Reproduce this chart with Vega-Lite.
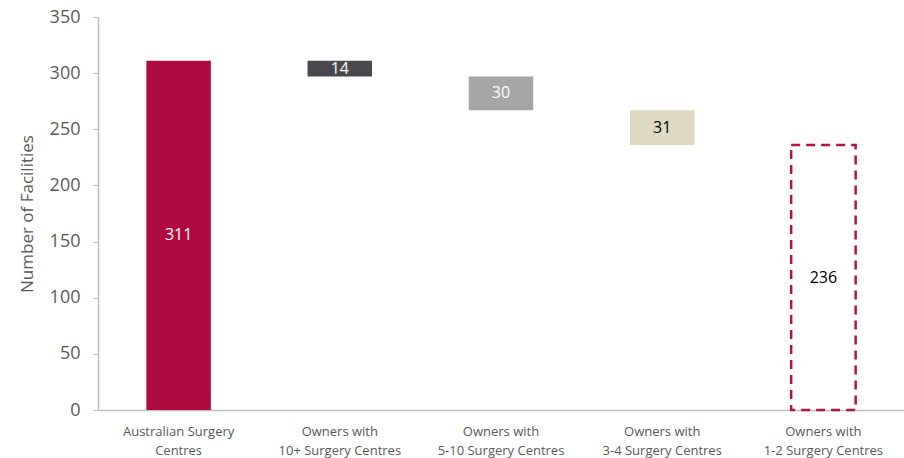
{
  "$schema": "https://vega.github.io/schema/vega-lite/v6.json",
  "width": 806,
  "height": 393,
  "autosize": {"type": "none"},
  "padding": {"left": 98, "top": 17, "right": 0, "bottom": 48},
  "background": "white",
  "config": {
    "view": {"stroke": null},
    "font": "Open Sans"
  },
  "data": {
    "values": [
      {"category": "Australian Surgery|Centres", "start": 0, "end": 311, "value": 311, "kind": "total"},
      {"category": "Owners with|10+ Surgery Centres", "start": 297, "end": 311, "value": 14, "kind": "step"},
      {"category": "Owners with|5-10 Surgery Centres", "start": 267, "end": 297, "value": 30, "kind": "step"},
      {"category": "Owners with|3-4 Surgery Centres", "start": 236, "end": 267, "value": 31, "kind": "step"},
      {"category": "Owners with|1-2 Surgery Centres", "start": 0, "end": 236, "value": 236, "kind": "remainder"}
    ]
  },
  "encoding": {
    "x": {
      "field": "category",
      "type": "nominal",
      "sort": null,
      "scale": {"paddingInner": 0.6, "paddingOuter": 0.3},
      "axis": {
        "title": null,
        "labelAngle": 0,
        "labelExpr": "split(datum.label, '|')",
        "labelFontSize": 13,
        "labelColor": "#595959",
        "labelLineHeight": 19,
        "labelPadding": 15,
        "ticks": false,
        "domainColor": "#bfbfbf",
        "domainWidth": 1.5
      }
    }
  },
  "layer": [
    {
      "transform": [{"filter": "datum.kind != 'remainder'"}],
      "mark": {"type": "bar"},
      "encoding": {
        "y": {
          "field": "start",
          "type": "quantitative",
          "scale": {"domain": [0, 350]},
          "axis": {
            "title": "Number of Facilities",
            "values": [0, 50, 100, 150, 200, 250, 300, 350],
            "grid": false,
            "domainColor": "#bfbfbf",
            "domainWidth": 1.5,
            "tickColor": "#bfbfbf",
            "tickSize": 5,
            "labelColor": "#595959",
            "labelFontSize": 18,
            "labelPadding": 13,
            "titleColor": "#595959",
            "titleFontSize": 17,
            "titleFontWeight": "normal",
            "titlePadding": 13
          }
        },
        "y2": {"field": "end"},
        "color": {
          "field": "category",
          "type": "nominal",
          "sort": null,
          "scale": {
            "domain": ["Australian Surgery|Centres", "Owners with|10+ Surgery Centres", "Owners with|5-10 Surgery Centres", "Owners with|3-4 Surgery Centres"],
            "range": ["#b00b40", "#48484e", "#a6a6a6", "#ddd9c3"]
          },
          "legend": null
        }
      }
    },
    {
      "transform": [{"filter": "datum.kind == 'remainder'"}],
      "mark": {"type": "bar", "fill": null, "fillOpacity": 0, "stroke": "#b5124a", "strokeWidth": 2.5, "strokeDash": [9, 6]},
      "encoding": {
        "y": {"field": "start", "type": "quantitative"},
        "y2": {"field": "end"}
      }
    },
    {
      "transform": [{"calculate": "(datum.start + datum.end) / 2", "as": "mid"}],
      "mark": {"type": "text", "fontSize": 16, "baseline": "middle", "align": "center"},
      "encoding": {
        "y": {"field": "mid", "type": "quantitative"},
        "text": {"field": "value", "type": "quantitative"},
        "color": {
          "condition": {"test": "datum.value == 31 || datum.kind == 'remainder'", "value": "#000000"},
          "value": "#ffffff"
        }
      }
    }
  ]
}
